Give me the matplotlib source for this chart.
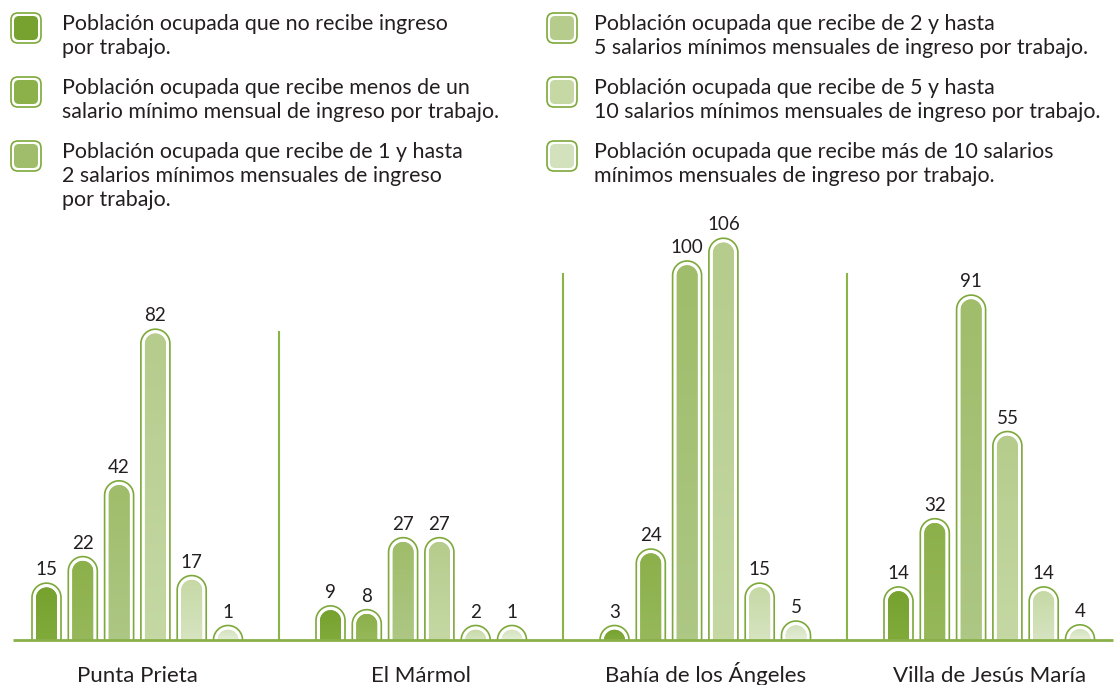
import numpy as np
import matplotlib.pyplot as plt
from matplotlib.patches import FancyBboxPatch, Polygon
from matplotlib.colors import LinearSegmentedColormap

plt.rcParams['font.family'] = ['Lato', 'DejaVu Sans']

localidades = ['Punta Prieta', 'El Mármol', 'Bahía de los Ángeles', 'Villa de Jesús María']
sin_ingreso = [15, 9, 3, 14]
menos_de_1 = [22, 8, 24, 32]
de_1_a_2 = [42, 27, 100, 91]
de_2_a_5 = [82, 27, 106, 55]
de_5_a_10 = [17, 2, 15, 14]
mas_de_10 = [1, 1, 5, 4]
series = [sin_ingreso, menos_de_1, de_1_a_2, de_2_a_5, de_5_a_10, mas_de_10]

etiquetas = [
    ['Población ocupada que no recibe ingreso', 'por trabajo.'],
    ['Población ocupada que recibe menos de un', 'salario mínimo mensual de ingreso por trabajo.'],
    ['Población ocupada que recibe de 1 y hasta', '2 salarios mínimos mensuales de ingreso', 'por trabajo.'],
    ['Población ocupada que recibe de 2 y hasta', '5 salarios mínimos mensuales de ingreso por trabajo.'],
    ['Población ocupada que recibe de 5 y hasta', '10 salarios mínimos mensuales de ingreso por trabajo.'],
    ['Población ocupada que recibe más de 10 salarios', 'mínimos mensuales de ingreso por trabajo.'],
]

color_arriba = ['#78a22f', '#8cb04a', '#9fbd6a', '#b5cc8c', '#c6d9a5', '#d3e2bd']
color_abajo = ['#80aa3a', '#96b85a', '#adc784', '#c5d8a4', '#d6e4c0', '#e4edd6']
verde_linea = '#7da83a'
texto = '#231f20'

# escala: pixeles por unidad
PX = 3.79
W, H = 1115, 685
BASE = 640


def barra_redonda(xc, ancho, tope, **kw):
    # rectangulo con tapa semicircular (radio en pixeles, y en unidades)
    r = ancho / 2
    t = np.linspace(0, np.pi, 60)
    xs = xc + r * np.cos(t)
    ys = tope - r / PX + (r / PX) * np.sin(t)
    pts = np.column_stack([np.r_[xc + r, xs, xc - r], np.r_[-1, ys, -1]])
    return Polygon(pts, closed=True, **kw)


fig = plt.figure(figsize=(W / 100, H / 100), dpi=100)
ax = fig.add_axes([0, (H - BASE) / H, 1, BASE / H])
ax.set_xlim(0, W)
ax.set_ylim(0, BASE / PX)
ax.axis('off')

x0, paso_grupo, paso_barra = 46.5, 284, 36.3
w_out, w_in = 29, 21
inset_top = 4.3

for gi, loc in enumerate(localidades):
    for si, s in enumerate(series):
        v = s[gi]
        xc = x0 + gi * paso_grupo + si * paso_barra
        top = max(v, (w_out / 2) / PX)
        outer = barra_redonda(xc, w_out, top, facecolor='white',
                              edgecolor=verde_linea, lw=1.2, zorder=2)
        ax.add_patch(outer)
        top_in = top - inset_top / PX
        inner = barra_redonda(xc, w_in, top_in, facecolor=color_arriba[si],
                              edgecolor='none', zorder=3)
        ax.add_patch(inner)
        cmap = LinearSegmentedColormap.from_list('g', [color_abajo[si], color_arriba[si]])
        grad = np.linspace(0, 1, 64).reshape(-1, 1)
        im = ax.imshow(grad, extent=[xc - w_in / 2, xc + w_in / 2, 0, top_in],
                       cmap=cmap, origin='lower', aspect='auto', zorder=4)
        im.set_clip_path(inner)
        ax.text(xc, top + 8 / PX, str(v), ha='center', va='baseline',
                fontsize=13.5, color=texto)
    centro = x0 + gi * paso_grupo + 2.5 * paso_barra
    ax.text(centro, -42 / PX, loc, ha='center', va='baseline', fontsize=16,
            color=texto, clip_on=False)

# separadores entre localidades
alto_sep = [(BASE - 332) / PX, (BASE - 274) / PX, (BASE - 274) / PX]
for gi in range(3):
    xs = x0 + gi * paso_grupo + 5 * paso_barra + (paso_grupo - 5 * paso_barra) / 2
    ax.plot([xs, xs], [0, alto_sep[gi]], color='#8ab445', lw=1.5, zorder=1)

ax.plot([13, 1113], [0, 0], color='#8ab04a', lw=2, zorder=6, clip_on=False,
        solid_capstyle='butt')
ax.set_xlim(0, W)
ax.set_ylim(0, BASE / PX)

# leyenda
lg = fig.add_axes([0, 0, 1, 1])
lg.set_xlim(0, W)
lg.set_ylim(H, 0)
lg.axis('off')
lg.patch.set_alpha(0)
filas = [30, 94, 158]
for i, lineas in enumerate(etiquetas):
    col, fila = divmod(i, 3)
    mx = 26 if col == 0 else 562
    tx = 62 if col == 0 else 594
    my = filas[fila] - 2
    lg.add_patch(FancyBboxPatch((mx - 15, my - 15), 30, 30,
                                boxstyle="round,pad=0,rounding_size=7",
                                facecolor='white', edgecolor=verde_linea, lw=1.2))
    lg.add_patch(FancyBboxPatch((mx - 12, my - 12), 24, 24,
                                boxstyle="round,pad=0,rounding_size=5",
                                facecolor=color_arriba[i], edgecolor='none'))
    for k, linea in enumerate(lineas):
        lg.text(tx, filas[fila] + 24 * k, linea, ha='left', va='baseline',
                fontsize=15.4, color=texto)

fig.savefig('out.png', dpi=100)
